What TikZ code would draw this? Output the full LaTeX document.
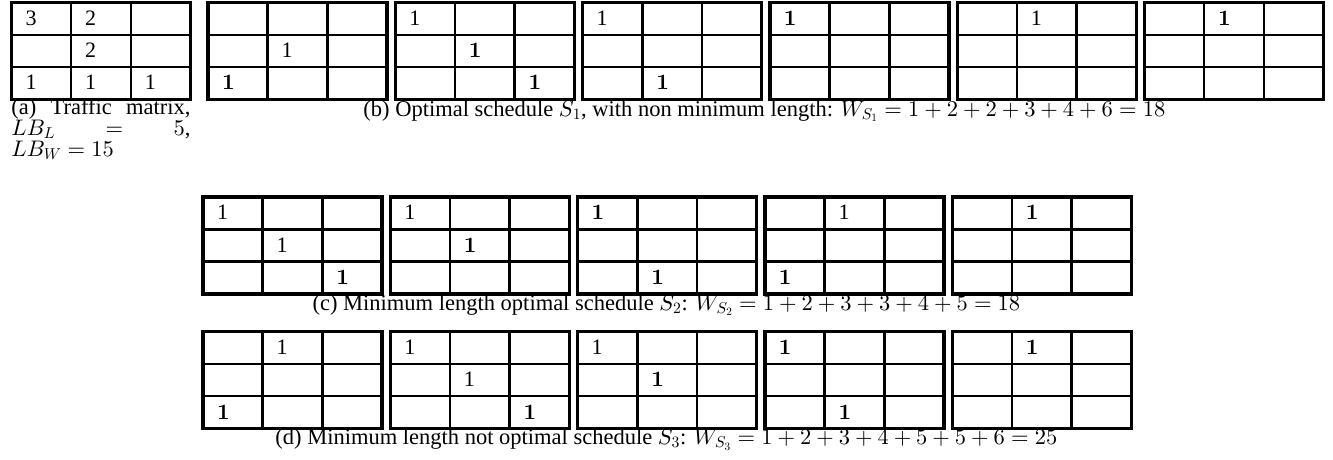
\documentclass[tikz,border=0pt]{standalone}
\usepackage[no-math]{fontspec}
\setmainfont{Liberation Serif}
\DeclareFontShape{OT1}{cmr}{m}{n}{<->cmr10}{}
\DeclareFontShape{OT1}{cmr}{bx}{n}{<->cmbx10}{}
\DeclareFontShape{OML}{cmm}{m}{it}{<->cmmi10}{}
\DeclareFontShape{OML}{cmm}{b}{it}{<->cmmib10}{}
\DeclareFontShape{OMS}{cmsy}{m}{n}{<->cmsy10}{}
\DeclareFontShape{OMS}{cmsy}{b}{n}{<->cmbsy10}{}
\tikzset{
  every node/.style={inner sep=0pt, outer sep=0pt},
  entry/.style={anchor=base west, font=\fontsize{22}{26}\selectfont},
  captext/.style={anchor=base, font=\fontsize{22.5}{26}\selectfont},
  capline/.style={anchor=base west, font=\fontsize{22.5}{26}\selectfont},
  outerline/.style={line width=3.2pt},
  innerline/.style={line width=2.6pt},
}
\newcommand\mkgrid[2]{%
  \draw[innerline] ({#1+59.667},#2) -- ++(0,97) ({#1+119.333},#2) -- ++(0,97)
    (#1,{#2+32.333}) -- ++(179,0) (#1,{#2+64.667}) -- ++(179,0);
  \draw[outerline] (#1,#2) rectangle ++(179,97);
}
\newcommand\ent[6]{\node[entry] (#1) at ({#2+(#5-1)*59.667+14},{#3+#4*32.333-9.5}) {#6};}
\newcommand\bo{$\mathbf{1}$}
\begin{document}
\begin{tikzpicture}[x=1pt,y=-1pt]
\useasboundingbox (0,0) rectangle (1333,460);
% ---- (a)
\mkgrid{11.5}{2.5}
\ent{a11}{11.5}{2.5}{1}{1}{3}
\ent{a12}{11.5}{2.5}{1}{2}{2}
\ent{a22}{11.5}{2.5}{2}{2}{2}
\ent{a31}{11.5}{2.5}{3}{1}{1}
\ent{a32}{11.5}{2.5}{3}{2}{1}
\ent{a33}{11.5}{2.5}{3}{3}{1}
\node[capline] (capa1) at (11.5,114) {\makebox[179pt][s]{(a)\hfill Traffic\hfill matrix,}};
\node[capline] (capa2) at (11.5,135) {\makebox[179pt][s]{$LB_L$\hfill$=$\hfill$5$,}};
\node[capline] (capa3) at (11.5,156) {$LB_W=15$};
% ---- (b)
\mkgrid{208}{2.5}
\ent{b1a}{208}{2.5}{2}{2}{1}
\ent{b1b}{208}{2.5}{3}{1}{\bo}
\mkgrid{395.3}{2.5}
\ent{b2a}{395.3}{2.5}{1}{1}{1}
\ent{b2b}{395.3}{2.5}{2}{2}{\bo}
\ent{b2c}{395.3}{2.5}{3}{3}{\bo}
\mkgrid{582.6}{2.5}
\ent{b3a}{582.6}{2.5}{1}{1}{1}
\ent{b3b}{582.6}{2.5}{3}{2}{\bo}
\mkgrid{769.9}{2.5}
\ent{b4a}{769.9}{2.5}{1}{1}{\bo}
\mkgrid{957.2}{2.5}
\ent{b5a}{957.2}{2.5}{1}{2}{1}
\mkgrid{1144.5}{2.5}
\ent{b6a}{1144.5}{2.5}{1}{2}{\bo}
\node[captext] (capb) at (764.5,116) {(b) Optimal schedule $S_1$, with non minimum length: $W_{S_1}=1+2+2+3+4+6=18$};
% ---- (c)
\mkgrid{203}{197}
\ent{c1a}{203}{197}{1}{1}{1}
\ent{c1b}{203}{197}{2}{2}{1}
\ent{c1c}{203}{197}{3}{3}{\bo}
\mkgrid{390.3}{197}
\ent{c2a}{390.3}{197}{1}{1}{1}
\ent{c2b}{390.3}{197}{2}{2}{\bo}
\mkgrid{577.6}{197}
\ent{c3a}{577.6}{197}{1}{1}{\bo}
\ent{c3b}{577.6}{197}{3}{2}{\bo}
\mkgrid{764.9}{197}
\ent{c4a}{764.9}{197}{1}{2}{1}
\ent{c4b}{764.9}{197}{3}{1}{\bo}
\mkgrid{952.2}{197}
\ent{c5a}{952.2}{197}{1}{2}{\bo}
\node[captext] (capc) at (666.5,310) {(c) Minimum length optimal schedule $S_2$: $W_{S_2}=1+2+3+3+4+5=18$};
% ---- (d)
\mkgrid{203}{331.5}
\ent{d1a}{203}{331.5}{1}{2}{1}
\ent{d1b}{203}{331.5}{3}{1}{\bo}
\mkgrid{390.3}{331.5}
\ent{d2a}{390.3}{331.5}{1}{1}{1}
\ent{d2b}{390.3}{331.5}{2}{2}{1}
\ent{d2c}{390.3}{331.5}{3}{3}{\bo}
\mkgrid{577.6}{331.5}
\ent{d3a}{577.6}{331.5}{1}{1}{1}
\ent{d3b}{577.6}{331.5}{2}{2}{\bo}
\mkgrid{764.9}{331.5}
\ent{d4a}{764.9}{331.5}{1}{1}{\bo}
\ent{d4b}{764.9}{331.5}{3}{2}{\bo}
\mkgrid{952.2}{331.5}
\ent{d5a}{952.2}{331.5}{1}{2}{\bo}
\node[captext] (capd) at (666.5,444.5) {(d) Minimum length not optimal schedule $S_3$: $W_{S_3}=1+2+3+4+5+5+6=25$};
\end{tikzpicture}
\end{document}
